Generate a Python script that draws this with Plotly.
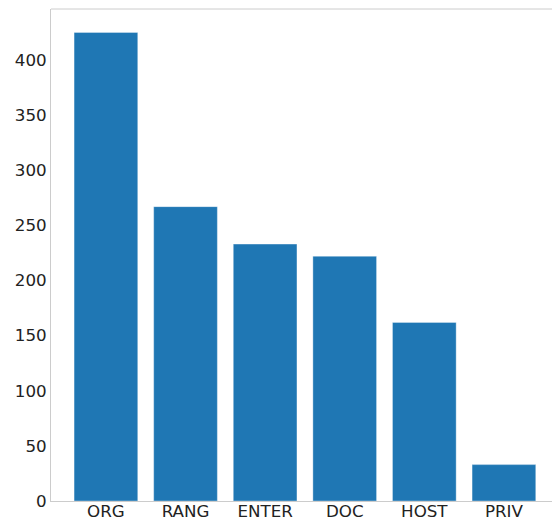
import plotly.graph_objects as go

categories = ["ORG", "RANG", "ENTER", "DOC", "HOST", "PRIV"]
counts = [425, 267, 233, 222, 162, 33]
y_ticks = [0, 50, 100, 150, 200, 250, 300, 350, 400]

fig = go.Figure(
    go.Bar(
        x=categories,
        y=counts,
        marker=dict(color="#1f77b4", line=dict(color="rgba(255,255,255,0.35)", width=1)),
    )
)

font = dict(family="DejaVu Sans", size=16.7, color="#222222")
fig.update_layout(
    width=552,
    height=520,
    margin=dict(l=51, r=0, t=9, b=19),
    paper_bgcolor="white",
    plot_bgcolor="white",
    bargap=0.2,
    showlegend=False,
    font=font,
    shapes=[
        dict(type="line", xref="paper", yref="paper", x0=0, x1=1.05, y0=1, y1=1,
             line=dict(color="#cccccc", width=1)),
    ],
)
fig.update_xaxes(
    range=[-0.69, 5.604],
    showline=True,
    linecolor="#cccccc",
    linewidth=1,
    mirror=False,
    showgrid=False,
    zeroline=False,
    ticks="",
    tickfont=font,
    ticklabelstandoff=-5,
    automargin=False,
)
fig.update_yaxes(
    range=[0, 446.25],
    tickvals=y_ticks,
    showline=True,
    linecolor="#cccccc",
    linewidth=1,
    showgrid=False,
    zeroline=False,
    ticks="",
    tickfont=font,
    automargin=False,
)

fig.write_html(
    "out.html",
    config={"displayModeBar": False},
    post_script="document.body.style.margin='0';document.body.style.overflow='hidden';",
)
